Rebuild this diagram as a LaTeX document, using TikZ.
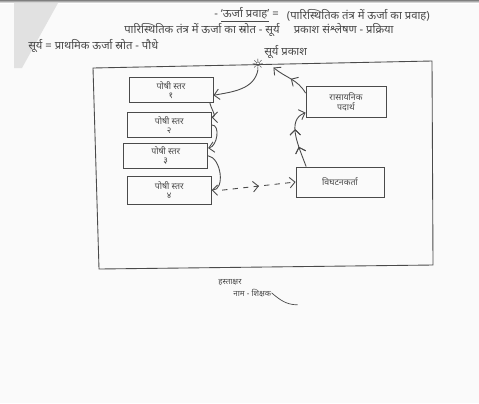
\documentclass[tikz,border=0pt]{standalone}
\usepackage{fontspec}
\newfontfamily\hindi[Script=Devanagari]{Noto Sans}
\newfontfamily\symb{DejaVu Sans}
\usetikzlibrary{arrows.meta, positioning, decorations.markings}
\definecolor{ink}{HTML}{4A4A4A}
\definecolor{paper}{HTML}{FAFAFA}
\definecolor{shade}{HTML}{BDBDBD}
\tikzset{
  trophic/.style={draw=ink, rectangle, align=center, minimum width=1.68cm, minimum height=0.5cm, inner sep=0.3mm, font=\hindi\fontsize{5}{5.4}\selectfont, text=ink, line width=0.5pt},
  sidebox/.style={trophic, minimum width=1.6cm, minimum height=0.62cm},
  arrow/.style={-{Straight Barb[length=3pt]}, draw=ink, line width=0.5pt},
  dasharrow/.style={arrow, dashed},
  midtip/.style={postaction={decorate}, decoration={markings, mark=at position #1 with {\arrow{Straight Barb[length=3pt]}}}},
  txt/.style={text=ink, font=\hindi\fontsize{6.4}{7}\selectfont, inner sep=0, anchor=west}
}

\begin{document}
\begin{tikzpicture}[x=0.02cm, y=-0.02cm]

% page
\fill[paper] (0,0) rectangle (479,403);
\useasboundingbox (0,0) rectangle (479,403);
\fill[shade] (0,0) rectangle (479,3);
\fill[shade!45] (14,3) -- (58,3) -- (22,68) -- (14,68) -- cycle;

% heading
\node[txt] (title) at (214,15) {- \underline{‘ऊर्जा प्रवाह’} =};
\node[txt, right=0.15cm of title] (sub) {(पारिस्थितिक तंत्र में ऊर्जा का प्रवाह)};
\node[txt] (line2) at (124,30) {पारिस्थितिक तंत्र में ऊर्जा का स्रोत - सूर्य \quad प्रकाश संश्लेषण - प्रक्रिया};
\node[txt] (line3) at (28,46) {सूर्य = प्राथमिक ऊर्जा स्रोत - पौधे};

% frame
\draw[ink, line width=0.5pt] (93,68) -- (432,61) -- (433,265) -- (99,269) -- cycle;

% sun
\node[text=ink, font=\symb\fontsize{8}{8}\selectfont, inner sep=0] (sun) at (258,64) {☼};
\node[txt] (sunlbl) at (264,52) {सूर्य प्रकाश};

% trophic levels
\node[trophic] (t1) at (171,90) {पोषी स्तर\\१};
\node[trophic, below=0.18cm of t1, xshift=-1pt] (t2) {पोषी स्तर\\२};
\node[trophic, below=0.1cm of t2, xshift=-2pt] (t3) {पोषी स्तर\\३};
\node[trophic, below=0.14cm of t3, xshift=2pt, minimum height=0.56cm] (t4) {पोषी स्तर\\४};

% right side
\node[sidebox] (chem) at (346,102) {रासायनिक\\पदार्थ};
\node[sidebox, minimum width=1.76cm, minimum height=0.6cm] (decomp) at (340,182) {विघटनकर्ता};

% flow
\draw[arrow] (sun.south) to[out=260, in=10] ([yshift=-3pt]t1.east);
\draw[arrow] ([xshift=-2pt]t1.south east) to[out=-80, in=0] ([yshift=-3pt]t2.north east);
\draw[arrow] (t2.east) to[out=0, in=10] ([yshift=-3pt]t3.north east);
\draw[arrow] (t3.east) to[out=-10, in=0] (t4.east);
\draw[dasharrow, midtip=0.5] ([xshift=6pt]t4.east) -- (decomp.west);
\draw[arrow, midtip=0.35, midtip=0.65] ([xshift=6pt]decomp.north west) to[out=110, in=200] ([yshift=3pt]chem.south west);
\draw[arrow, midtip=0.5] ([yshift=-4pt]chem.north west) to[out=120, in=-40] ([xshift=5pt,yshift=-2pt]sun.east);

% signature
\node[txt, font=\hindi\fontsize{4.6}{5}\selectfont] (sign) at (218,283) {हस्ताक्षर};
\node[txt, font=\hindi\fontsize{4.6}{5}\selectfont, below right=0.04cm and 0.3cm of sign.south west, anchor=north west] (name) {नाम - शिक्षक};
\draw[ink, line width=0.4pt] (name.east) to[out=-40, in=180] ++(26,12);

\end{tikzpicture}
\end{document}
